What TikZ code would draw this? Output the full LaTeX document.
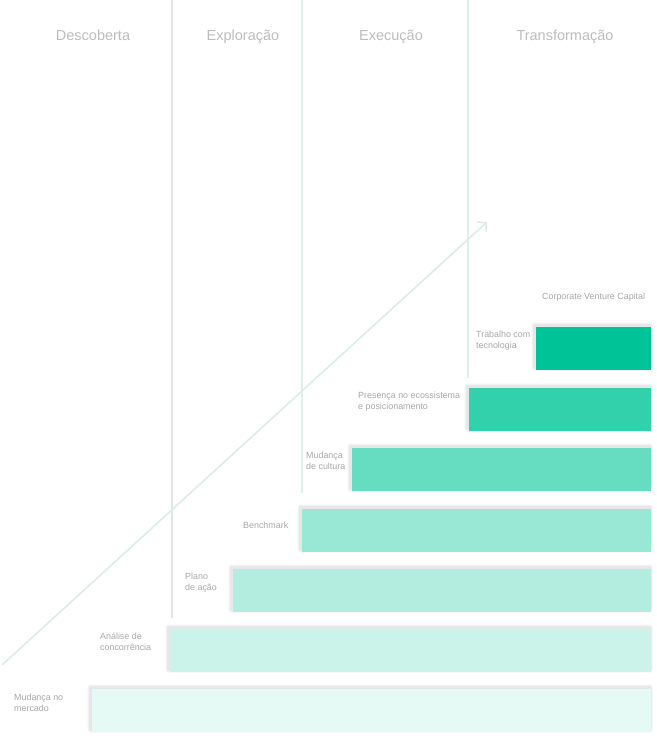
\documentclass[tikz,border=0pt]{standalone}
\usepackage{fontspec}
\setmainfont{Liberation Sans}
\usetikzlibrary{arrows.meta,backgrounds}
\definecolor{base}{HTML}{00C497}
\definecolor{hdr}{HTML}{BDBDBD}
\definecolor{lbl}{HTML}{A8A8A8}
\definecolor{vgray}{HTML}{E4E4E4}
\definecolor{vteal}{HTML}{DDF0EC}
\definecolor{arrowc}{HTML}{DCEDE9}
\definecolor{shadein}{HTML}{E7E7E7}
\definecolor{shadeout}{HTML}{F3F3F3}
\tikzset{
  header/.style={text=hdr, font=\fontsize{14.5}{17}\selectfont, anchor=base, inner sep=0pt},
  lab/.style={text=lbl, font=\fontsize{8.9}{11.3}\selectfont, align=left, anchor=north west, inner sep=0pt},
  barbox/.style={inner sep=0pt, outer sep=0pt, anchor=north west, minimum height=43pt},
  vline/.style={line width=2pt},
}
\newcommand\barshadow[1]{%
  \fill[shadeout, rounded corners=3pt] ([shift={(-4.5,-4.5)}]#1.north west) rectangle ([shift={(1.5,0.5)}]#1.south east);
  \fill[shadein, rounded corners=2pt] ([shift={(-3,-3)}]#1.north west) rectangle ([shift={(0.5,-1)}]#1.south east);
}
\begin{document}
\begin{tikzpicture}[x=1pt,y=-1pt]
\useasboundingbox (0,0) rectangle (656,739);

% vertical phase lines
\coordinate (v1t) at (172,0); \coordinate (v1b) at (172,618);
\coordinate (v2t) at (302,0); \coordinate (v2b) at (302,493);
\coordinate (v3t) at (468,0); \coordinate (v3b) at (468,378);
\draw[vline, vgray] (v1t) -- (v1b);
\draw[vline, vteal] (v2t) -- (v2b);
\draw[vline, vteal] (v3t) -- (v3b);

% headers
\node[header] (h1) at (93,40.5) {Descoberta};
\node[header] (h2) at (243,40.5) {Exploração};
\node[header] (h3) at (391,40.5) {Execução};
\node[header] (h4) at (565,40.5) {Transformação};

% arrow
\coordinate (as) at (2,665);
\coordinate (ae) at (487,222);
\draw[arrowc, line width=1.6pt, -{Straight Barb[length=6pt,width=13pt]}] (as) -- (ae);

% bars
\node[barbox, fill=base,             minimum width=115pt] (b1) at (536,327) {};
\node[barbox, fill=base!80!white,    minimum width=182pt] (b2) at (469,388) {};
\node[barbox, fill=base!60!white,    minimum width=299pt] (b3) at (352,448) {};
\node[barbox, fill=base!40!white,    minimum width=349pt] (b4) at (302,509) {};
\node[barbox, fill=base!30!white,    minimum width=418pt] (b5) at (233,569) {};
\node[barbox, fill=base!20!white,    minimum width=481pt] (b6) at (170,629) {};
\node[barbox, fill=base!10!white,    minimum width=559pt] (b7) at (92,689) {};

\begin{pgfonlayer}{background}
\fill[white] (0,0) rectangle (656,739);
\barshadow{b1}\barshadow{b2}\barshadow{b3}\barshadow{b4}\barshadow{b5}\barshadow{b6}\barshadow{b7}
\end{pgfonlayer}

% labels
\node[lab] (l0) at (542,292.5) {Corporate Venture Capital};
\node[lab] (l1) at (476,330.5) {Trabalho com\\tecnologia};
\node[lab] (l2) at (358,391.5) {Presença no ecossistema\\e posicionamento};
\node[lab] (l3) at (306,451.5) {Mudança\\de cultura};
\node[lab] (l4) at (243,521.5) {Benchmark};
\node[lab] (l5) at (185,572.5) {Plano\\de ação};
\node[lab] (l6) at (100,632.5) {Análise de\\concorrência};
\node[lab] (l7) at (14,693.5) {Mudança no\\mercado};
\end{tikzpicture}
\end{document}
